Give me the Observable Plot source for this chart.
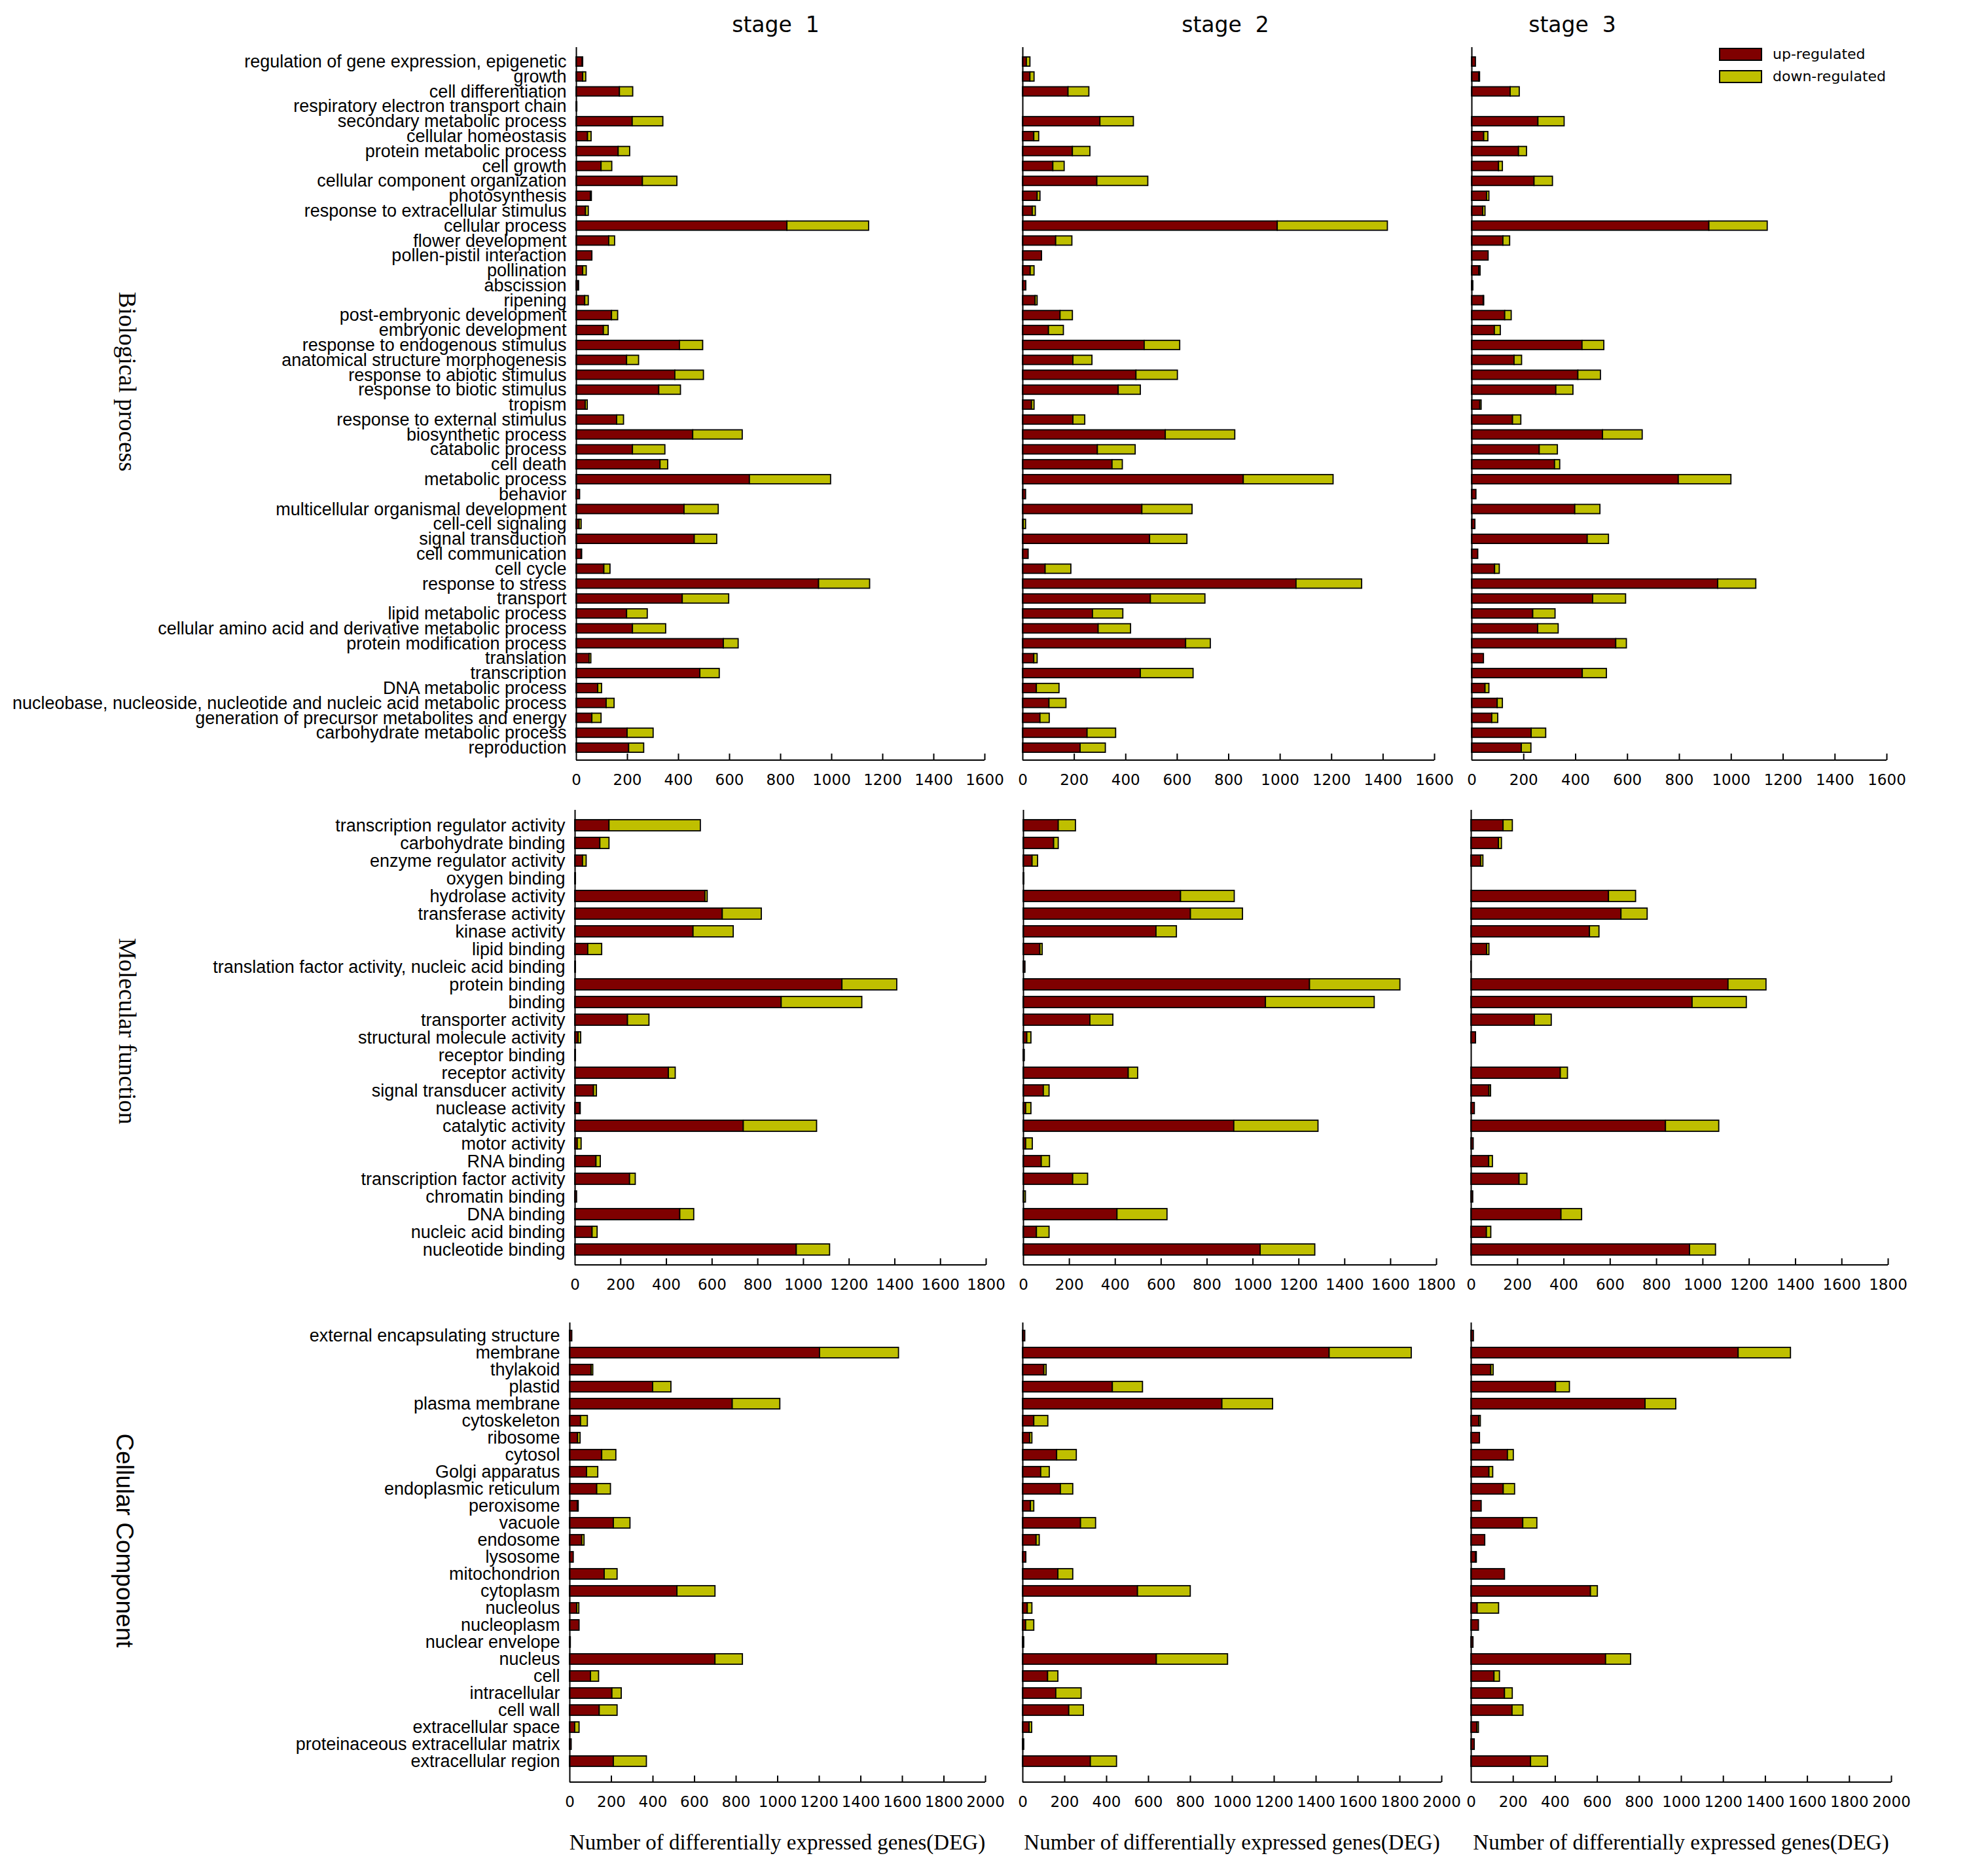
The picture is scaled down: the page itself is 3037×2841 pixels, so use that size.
<!DOCTYPE html>
<html>
<head>
<meta charset="utf-8">
<script src="https://cdn.jsdelivr.net/npm/d3@7"></script>
<script src="https://cdn.jsdelivr.net/npm/@observablehq/plot@0.6"></script>
<style>
html, body { margin: 0; padding: 0; background: #fff; }
#page { position: relative; width: 3037px; height: 2841px; overflow: hidden; background: #fff; }
.abs { position: absolute; white-space: pre; line-height: 1; }
.center { transform: translate(-50%, -50%); }
.rot { transform: translate(-50%, -50%) rotate(90deg); }
.stage { font-family: 'DejaVu Sans', Verdana, sans-serif; font-size: 33px; color: #000; }
.xtitle { font-family: 'Liberation Serif', 'Times New Roman', serif; font-size: 33px; color: #000; }
.gtitle { font-size: 37px; color: #000; }
.legtext { font-family: 'DejaVu Sans', Verdana, sans-serif; font-size: 22px; color: #000; transform: translateY(-50%); }
.swatch { position: absolute; box-sizing: border-box; border: 2px solid #000; }
</style>
</head>
<body>
<div id="page"></div>
<script>
// ---------------- DATA ----------------
const bpCats = ["regulation of gene expression, epigenetic","growth","cell differentiation","respiratory electron transport chain","secondary metabolic process","cellular homeostasis","protein metabolic process","cell growth","cellular component organization","photosynthesis","response to extracellular stimulus","cellular process","flower development","pollen-pistil interaction","pollination","abscission","ripening","post-embryonic development","embryonic development","response to endogenous stimulus","anatomical structure morphogenesis","response to abiotic stimulus","response to biotic stimulus","tropism","response to external stimulus","biosynthetic process","catabolic process","cell death","metabolic process","behavior","multicellular organismal development","cell-cell signaling","signal transduction","cell communication","cell cycle","response to stress","transport","lipid metabolic process","cellular amino acid and derivative metabolic process","protein modification process","translation","transcription","DNA metabolic process","nucleobase, nucleoside, nucleotide and nucleic acid metabolic process","generation of precursor metabolites and energy","carbohydrate metabolic process","reproduction"];
const bpUp1   = [24,26,170,3,220,45,165,98,260,56,37,826,128,62,26,8,34,139,107,405,198,387,324,36,159,457,221,329,679,14,423,12,463,20,109,950,416,198,221,577,51,485,85,118,62,200,206];
const bpDown1 = [2,12,52,0,120,14,45,42,135,4,11,320,23,0,14,2,14,24,19,91,47,112,85,8,27,194,127,30,318,0,134,8,88,2,24,200,182,81,130,58,7,76,15,31,36,102,59];
const bpUp2   = [15,29,177,0,301,44,194,118,289,57,38,990,129,74,30,13,49,146,101,473,196,441,372,35,196,555,291,348,858,12,464,3,494,22,88,1063,497,272,294,634,44,458,54,103,68,251,224];
const bpDown2 = [14,16,81,0,130,19,68,44,198,11,12,428,63,0,15,0,8,48,58,138,74,161,86,10,46,270,147,40,349,0,195,9,145,0,100,255,212,118,126,96,13,205,88,66,36,111,98];
const bpUp3   = [15,28,149,0,256,47,181,104,241,58,43,915,121,64,28,5,45,128,88,426,164,410,325,32,158,505,261,320,797,17,398,13,446,24,89,949,467,236,255,556,46,427,52,99,78,230,192];
const bpDown3 = [0,3,35,0,101,16,31,15,71,9,9,225,26,0,5,0,2,25,23,84,29,87,66,5,32,153,70,20,203,0,97,0,82,0,18,147,127,86,79,41,0,93,15,20,23,56,37];

const mfCats = ["transcription regulator activity","carbohydrate binding","enzyme regulator activity","oxygen binding","hydrolase activity","transferase activity","kinase activity","lipid binding","translation factor activity, nucleic acid binding","protein binding","binding","transporter activity","structural molecule activity","receptor binding","receptor activity","signal transducer activity","nuclease activity","catalytic activity","motor activity","RNA binding","transcription factor activity","chromatin binding","DNA binding","nucleic acid binding","nucleotide binding"];
const mfUp1   = [150,110,34,3,570,646,518,57,3,1170,904,231,15,3,410,82,22,738,11,93,240,8,460,76,970];
const mfDown1 = [400,40,16,0,10,171,176,61,0,240,353,94,11,0,30,13,2,321,17,19,25,0,61,22,146];
const mfUp2   = [153,133,39,3,686,729,579,73,8,1248,1056,291,16,5,458,88,11,918,11,79,216,2,409,58,1033];
const mfDown2 = [75,20,24,0,234,227,89,10,0,394,474,100,18,0,41,25,23,367,29,36,65,8,218,55,238];
const mfUp3   = [139,119,42,0,594,648,512,68,1,1110,955,274,20,0,386,78,15,840,10,77,208,8,389,67,944];
const mfDown3 = [40,13,10,0,117,113,41,10,0,164,234,73,0,0,31,7,0,230,0,16,34,0,89,19,112];

const ccCats = ["external encapsulating structure","membrane","thylakoid","plastid","plasma membrane","cytoskeleton","ribosome","cytosol","Golgi apparatus","endoplasmic reticulum","peroxisome","vacuole","endosome","lysosome","mitochondrion","cytoplasm","nucleolus","nucleoplasm","nuclear envelope","nucleus","cell","intracellular","cell wall","extracellular space","proteinaceous extracellular matrix","extracellular region"];
const ccUp1   = [11,1203,104,400,783,53,39,155,82,131,38,211,59,18,167,517,35,46,4,700,101,204,143,25,8,211];
const ccDown1 = [0,380,8,88,229,33,12,68,54,66,4,80,11,0,62,183,10,0,0,132,39,45,86,21,0,159];
const ccUp2   = [11,1464,102,429,952,54,34,163,87,181,38,277,65,16,169,549,23,15,2,639,120,159,221,32,6,324];
const ccDown2 = [0,392,11,144,242,67,11,94,41,59,16,72,15,0,71,252,22,39,4,340,49,121,70,12,0,125];
const ccUp3   = [12,1272,95,403,829,38,41,174,86,154,49,247,66,22,160,569,30,36,10,641,110,160,196,29,16,284];
const ccDown3 = [0,249,11,66,146,7,0,28,18,54,0,67,0,4,0,33,102,0,0,119,26,37,52,7,0,81];

const bpTicks = [0,200,400,600,800,1000,1200,1400,1600];
const mfTicks = [0,200,400,600,800,1000,1200,1400,1600,1800];
const ccTicks = [0,200,400,600,800,1000,1200,1400,1600,1800,2000];

const stageTitles = ["stage  1","stage  2","stage  3"];
const groupTitles = ["Biological process","Molecular function","Cellular Component"];
const seriesKeys = ["up","down"];
const legendLabels = ["up-regulated","down-regulated"];
const xTitle = "Number of differentially expressed genes(DEG)";

// ---------------- STYLE / LAYOUT ----------------
const upColor = "#7F0000", downColor = "#BFBF00";
const groups = [
  {cats: bpCats, ticks: bpTicks, stages: [[bpUp1,bpDown1],[bpUp2,bpDown2],[bpUp3,bpDown3]]},
  {cats: mfCats, ticks: mfTicks, stages: [[mfUp1,mfDown1],[mfUp2,mfDown2],[mfUp3,mfDown3]]},
  {cats: ccCats, ticks: ccTicks, stages: [[ccUp1,ccDown1],[ccUp2,ccDown2],[ccUp3,ccDown3]]}
];
const layout = [
  {axisTop: 72,   firstY: 94,   lastY: 1142, axisY: 1161, cols: [[880,1504],[1562,2191],[2248,2882]], tx: 194, ty: 583,  tfont: "'Liberation Serif','Times New Roman',serif", lab: 27},
  {axisTop: 1237, firstY: 1260, lastY: 1908, axisY: 1932, cols: [[878,1506],[1563,2194],[2247,2884]], tx: 194, ty: 1575, tfont: "'Liberation Serif','Times New Roman',serif", lab: 27},
  {axisTop: 2020, firstY: 2032, lastY: 2698, axisY: 2722, cols: [[870,1505],[1562,2202],[2247,2889]], tx: 190, ty: 2353, tfont: "'Liberation Sans',Arial,sans-serif", lab: 27}
];
const stagePos = [[1185, 37],[1872, 37],[2402, 37]];
const xTitleY = 2814;

const page = document.getElementById("page");
function addDiv(cls, text, left, top, extraStyle) {
  const d = document.createElement("div");
  d.className = "abs " + cls;
  d.textContent = text;
  d.style.left = left + "px";
  d.style.top = top + "px";
  if (extraStyle) Object.assign(d.style, extraStyle);
  page.appendChild(d);
  return d;
}

function bottomLine(index, scales, values, dims) {
  const y = dims.height - dims.marginBottom;
  const l = document.createElementNS("http://www.w3.org/2000/svg", "line");
  l.setAttribute("x1", dims.marginLeft);
  l.setAttribute("x2", dims.width - dims.marginRight);
  l.setAttribute("y1", y);
  l.setAttribute("y2", y);
  l.setAttribute("stroke", "#000");
  l.setAttribute("stroke-width", 2);
  return l;
}

groups.forEach((g, gi) => {
  const L = layout[gi];
  const n = g.cats.length;
  const step = (L.lastY - L.firstY) / (n - 1);
  const svgTop = L.axisTop - 10;
  const height = L.axisY - svgTop + 60;
  const frameH = L.axisY - L.axisTop;
  const xmax = g.ticks[g.ticks.length - 1];
  g.stages.forEach(([up, down], si) => {
    const [c0, c1] = L.cols[si];
    const svgLeft = si === 0 ? 0 : c0 - 40;
    const width = c1 - svgLeft + 50;
    const rows = g.cats.flatMap((c, i) => [
      {cat: c, type: seriesKeys[0], value: up[i]},
      {cat: c, type: seriesKeys[1], value: down[i]}
    ]);
    const plot = Plot.plot({
      width, height,
      marginTop: 10, marginBottom: 60,
      marginLeft: c0 - svgLeft, marginRight: width - (c1 - svgLeft),
      style: `font-family:'Liberation Sans',Arial,sans-serif;font-size:${L.lab}px;background:transparent;overflow:visible;max-width:none;color:#000;`,
      x: {domain: [0, xmax], range: [c0 - svgLeft, c1 - svgLeft], ticks: g.ticks, tickSize: 0, tickPadding: 21, tickFormat: d => String(d), label: null},
      y: {domain: g.cats, range: [L.firstY - step / 2 - svgTop, L.lastY + step / 2 - svgTop], paddingInner: 0.38, paddingOuter: 0.19,
          axis: si === 0 ? "left" : null, tickSize: 0, tickPadding: 15, label: null},
      color: {domain: seriesKeys, range: [upColor, downColor]},
      marks: [
        Plot.barX(rows, Plot.stackX({y: "cat", x: "value", fill: "type", stroke: "#000", strokeWidth: 1.8})),
        Plot.ruleX([0], {stroke: "#000", strokeWidth: 2}),
        Plot.ruleX(g.ticks.slice(1), {x: d => d, insetTop: frameH - 10, stroke: "#000", strokeWidth: 2}),
        bottomLine
      ]
    });
    plot.querySelectorAll('[aria-label^="x-axis"] text').forEach(t => {
      t.style.fontFamily = "'DejaVu Sans', Verdana, sans-serif";
      t.style.fontSize = "23px";
    });
    const wrap = document.createElement("div");
    wrap.style.position = "absolute";
    wrap.style.left = svgLeft + "px";
    wrap.style.top = svgTop + "px";
    wrap.appendChild(plot);
    page.appendChild(wrap);
  });
  addDiv("gtitle rot", groupTitles[gi], L.tx, L.ty, {fontFamily: L.tfont});
});

stageTitles.forEach((t, i) => addDiv("stage center", t, stagePos[i][0], stagePos[i][1]));

// x titles centred under each column
layout[2].cols.forEach(([c0, c1]) => addDiv("xtitle center", xTitle, (c0 + c1) / 2, xTitleY));

// legend
const legendSw = [[2626, 73],[2626, 107]];
[upColor, downColor].forEach((c, i) => {
  const s = document.createElement("div");
  s.className = "swatch";
  Object.assign(s.style, {left: legendSw[i][0] + "px", top: legendSw[i][1] + "px", width: "66px", height: "20px", background: c});
  page.appendChild(s);
  addDiv("legtext", legendLabels[i], 2708, legendSw[i][1] + 10);
});
</script>
</body>
</html>
